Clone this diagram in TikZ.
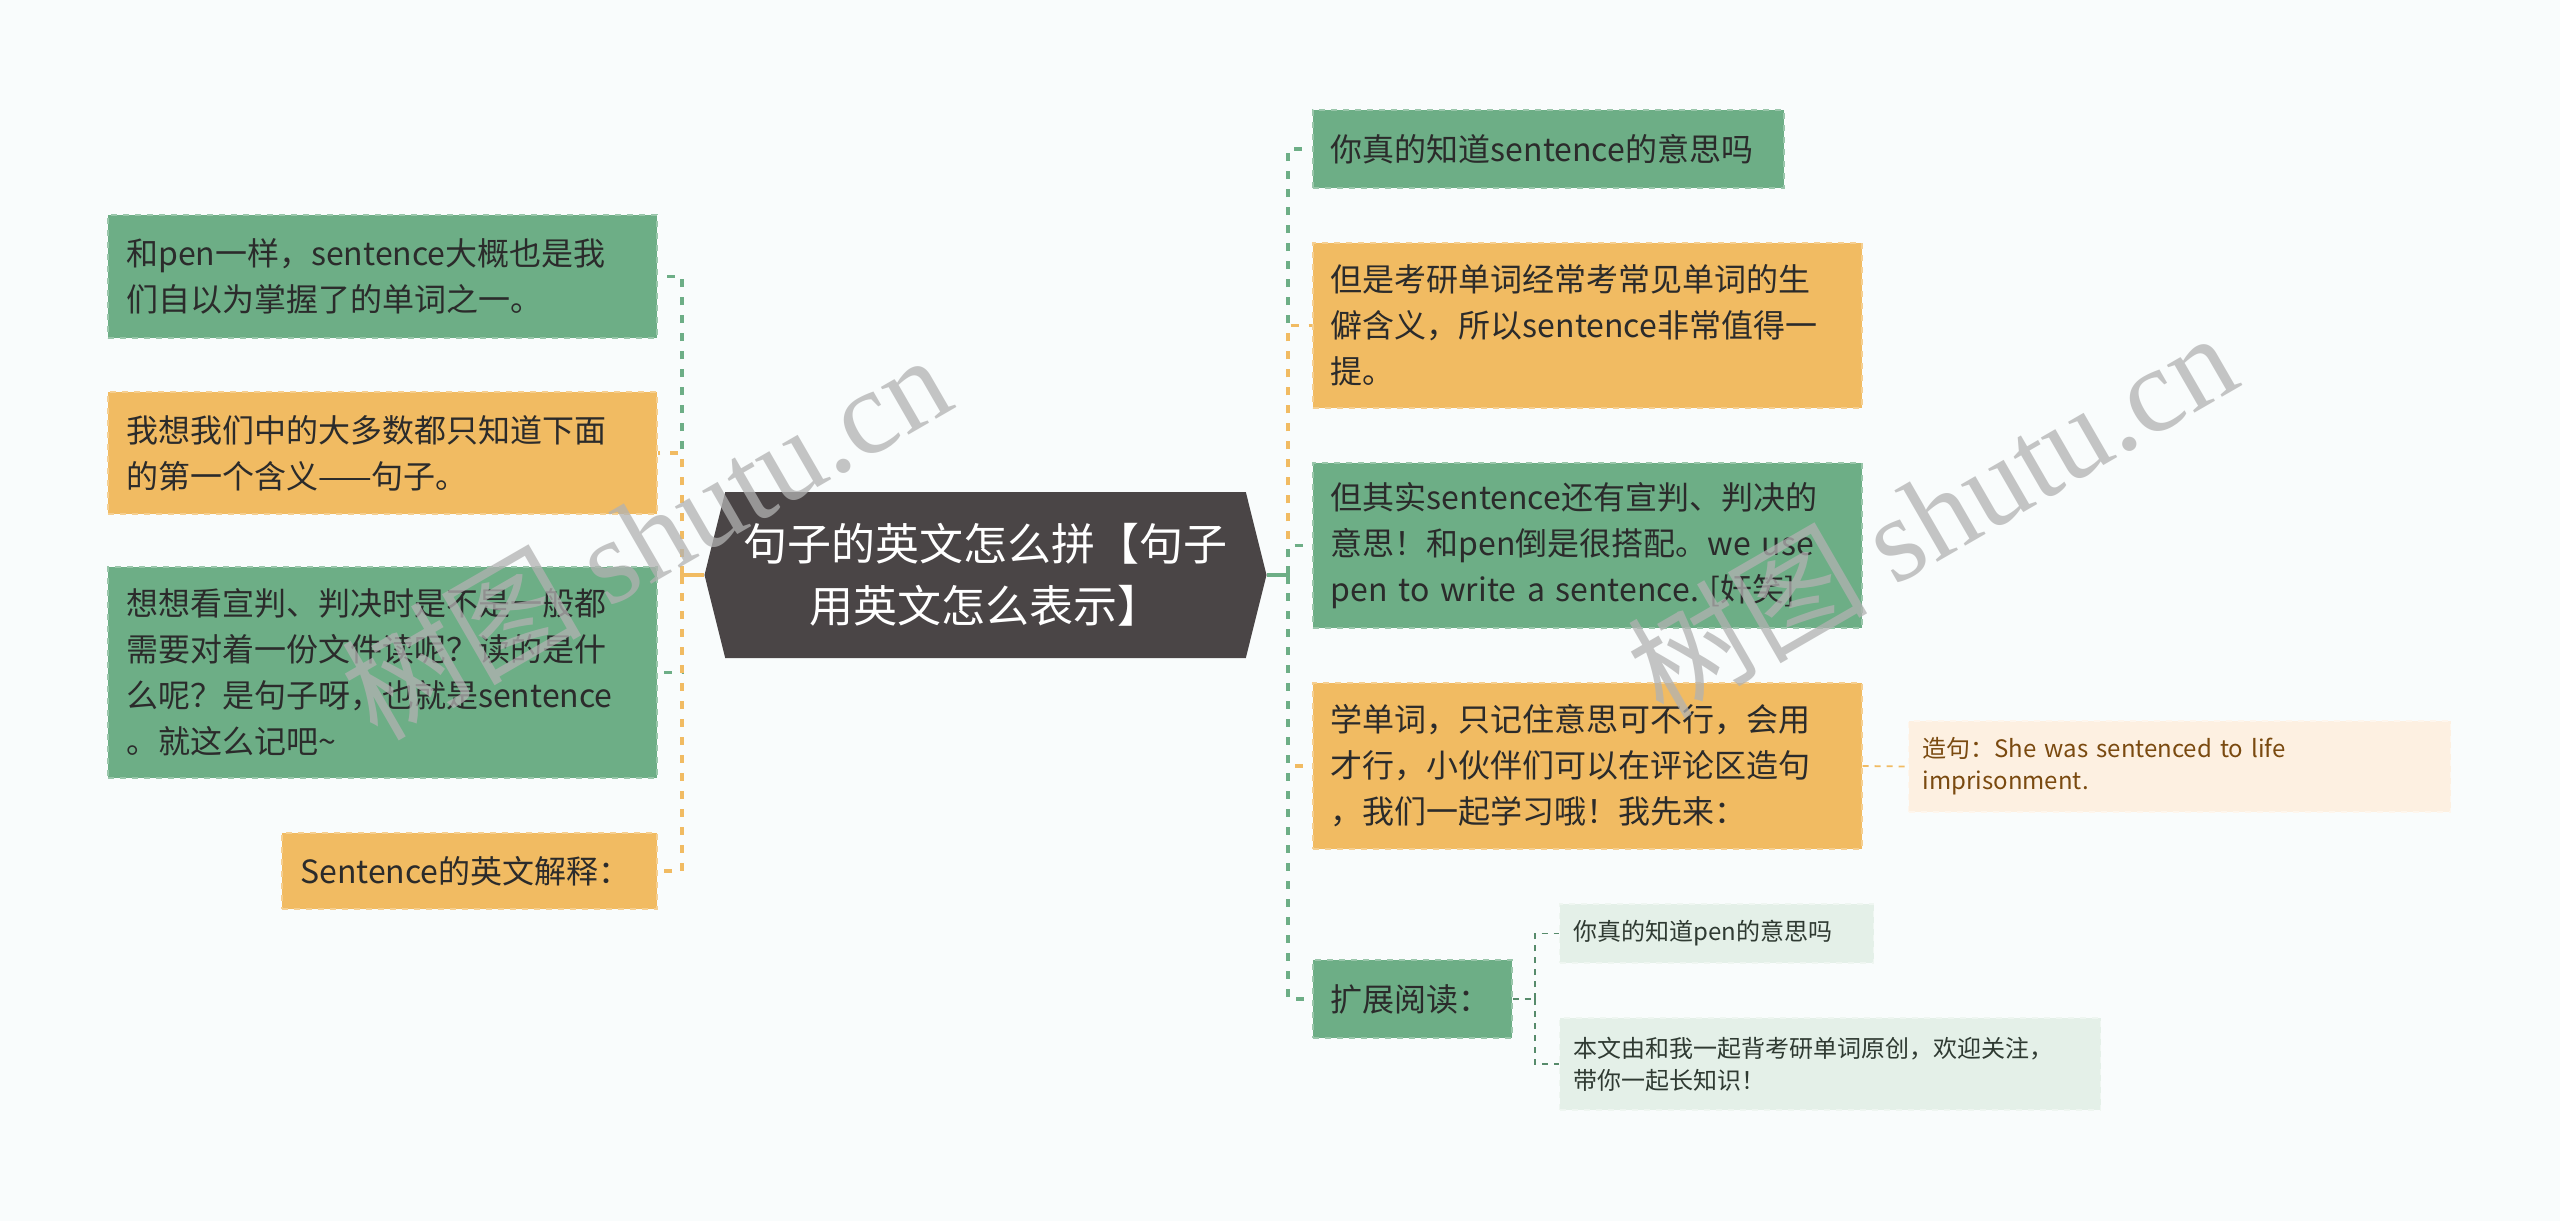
\documentclass[tikz,border=0pt]{standalone}
\usepackage{fontspec}
\setmainfont{Noto Sans CJK SC}
\newfontfamily\wmserif{Liberation Serif}
\usetikzlibrary{shapes.symbols}
\definecolor{bgcol}{HTML}{F9FCFC}
\definecolor{cgreen}{HTML}{6DAE86}
\definecolor{corange}{HTML}{F1BB62}
\definecolor{croot}{HTML}{4A4546}
\definecolor{lgreen}{HTML}{E4F0E8}
\definecolor{lorange}{HTML}{FDF0E1}
\definecolor{ctext}{HTML}{2B2B2B}
\definecolor{cbrown}{HTML}{7A4A10}
\definecolor{csub}{HTML}{2F3A32}

\begin{document}
\begin{tikzpicture}[x=0.5pt, y=-0.5pt,
  rootbox/.style={signal, signal to=east and west, signal pointer angle=152,
    fill=croot, text=white, align=center, inner sep=0pt,
    minimum width=281pt, minimum height=83pt, font=\fontsize{22}{31}\selectfont},
  box/.style={rectangle, dashed, line width=0.8pt, inner xsep=9pt, inner ysep=4pt,
    align=left, text=ctext, font=\fontsize{16}{23}\selectfont},
  gbox/.style={box, fill=cgreen, draw=cgreen!70!white},
  obox/.style={box, fill=corange, draw=corange!70!white},
  subbox/.style={rectangle, dashed, line width=0.6pt, inner xsep=7pt, inner ysep=3pt,
    align=left, font=\fontsize{12}{16}\selectfont},
  link/.style={line width=1.6pt, dash pattern=on 4pt off 5pt},
  sublink/.style={line width=0.9pt, dash pattern=on 3pt off 3pt},
  rootlink/.style={line width=1.6pt},
  wmark/.style={text=black!30, opacity=0.75, font=\fontsize{60}{60}\selectfont}]

  \fill[bgcol] (0,0) rectangle (2560,1221);

  \node[rootbox] (root) at (985.5,575) {句子的英文怎么拼【句子\\用英文怎么表示】};

  \node[gbox, anchor=east, text width=256.5pt, minimum height=61.5pt] (l1) at (658,276.5)
    {和pen一样，sentence大概也是我\\们自以为掌握了的单词之一。};
  \node[obox, anchor=east, text width=256.5pt, minimum height=61pt] (l2) at (658,453)
    {我想我们中的大多数都只知道下面\\的第一个含义——句子。};
  \node[gbox, anchor=east, text width=256.5pt, minimum height=105.5pt] (l3) at (658,672.5)
    {想想看宣判、判决时是不是一般都\\需要对着一份文件读呢？读的是什\\么呢？是句子呀，也就是sentence\\。就这么记吧\textasciitilde};
  \node[obox, anchor=east, text width=169.5pt, minimum height=38pt] (l4) at (658,871)
    {Sentence的英文解释：};

  \node[gbox, anchor=west, text width=217.5pt, minimum height=39pt] (r1) at (1312,149)
    {你真的知道sentence的意思吗};
  \node[obox, anchor=west, text width=256.5pt, minimum height=82.5pt] (r2) at (1312,325.5)
    {但是考研单词经常考常见单词的生\\僻含义，所以sentence非常值得一\\提。};
  \node[gbox, anchor=west, text width=256.5pt, minimum height=82.5pt] (r3) at (1312,545.5)
    {但其实sentence还有宣判、判决的\\意思！和pen倒是很搭配。we~use\\pen~to~write~a~sentence.~[奸笑]};
  \node[obox, anchor=west, text width=256.5pt, minimum height=83pt] (r4) at (1312,766)
    {学单词，只记住意思可不行，会用\\才行，小伙伴们可以在评论区造句\\，我们一起学习哦！我先来：};
  \node[gbox, anchor=west, text width=81.5pt, minimum height=39pt] (r5) at (1312,999)
    {扩展阅读：};

  \node[subbox, fill=lorange, draw=lorange!60!white, text=cbrown, anchor=west,
    text width=257pt, minimum height=45.5pt] (s1) at (1908,766.5)
    {造句：She was sentenced to life\\imprisonment.};
  \node[subbox, fill=lgreen, draw=lgreen!60!white, text=csub, anchor=west,
    text width=143pt, minimum height=29.5pt] (c1) at (1559,933.5)
    {你真的知道pen的意思吗};
  \node[subbox, fill=lgreen, draw=lgreen!60!white, text=csub, anchor=west,
    text width=256.5pt, minimum height=46pt] (c2) at (1559,1064)
    {本文由和我一起背考研单词原创，欢迎关注，\\带你一起长知识！};

  \coordinate (jl) at (682,575);
  \coordinate (jr) at (1288,575);
  \coordinate (jc) at (1535,999);

  \draw[rootlink, corange] (root.west) -- (jl);
  \draw[rootlink, corange] ([yshift=-4.5pt]jl) -- ([yshift=4.5pt]jl);
  \draw[link, cgreen] (jl) |- (l1.east);
  \draw[link, corange] (jl) |- (l2.east);
  \draw[link, cgreen] (jl) |- (l3.east);
  \draw[link, corange] (jl) |- (l4.east);

  \draw[rootlink, cgreen] (root.east) -- (jr);
  \draw[rootlink, cgreen] ([yshift=-4.5pt]jr) -- ([yshift=4.5pt]jr);
  \draw[link, cgreen] (jr) |- (r1.west);
  \draw[link, corange] (jr) |- (r2.west);
  \draw[link, cgreen] (jr) |- (r3.west);
  \draw[link, corange] (jr) |- (r4.west);
  \draw[link, cgreen] (jr) |- (r5.west);

  \draw[sublink, corange] (r4.east) -- (s1.west);
  \draw[sublink, cgreen!80!black] (r5.east) -- (jc);
  \draw[sublink, cgreen!80!black] ([yshift=-3pt]jc) -- ([yshift=3pt]jc);
  \draw[sublink, cgreen!80!black] (jc) |- (c1.west);
  \draw[sublink, cgreen!80!black] (jc) |- (c2.west);

  \node[wmark, rotate=30] (wm1) at (645,535) {树图 {\wmserif shutu.cn}};
  \node[wmark, rotate=30] (wm2) at (1931,513) {树图 {\wmserif shutu.cn}};
\end{tikzpicture}
\end{document}
